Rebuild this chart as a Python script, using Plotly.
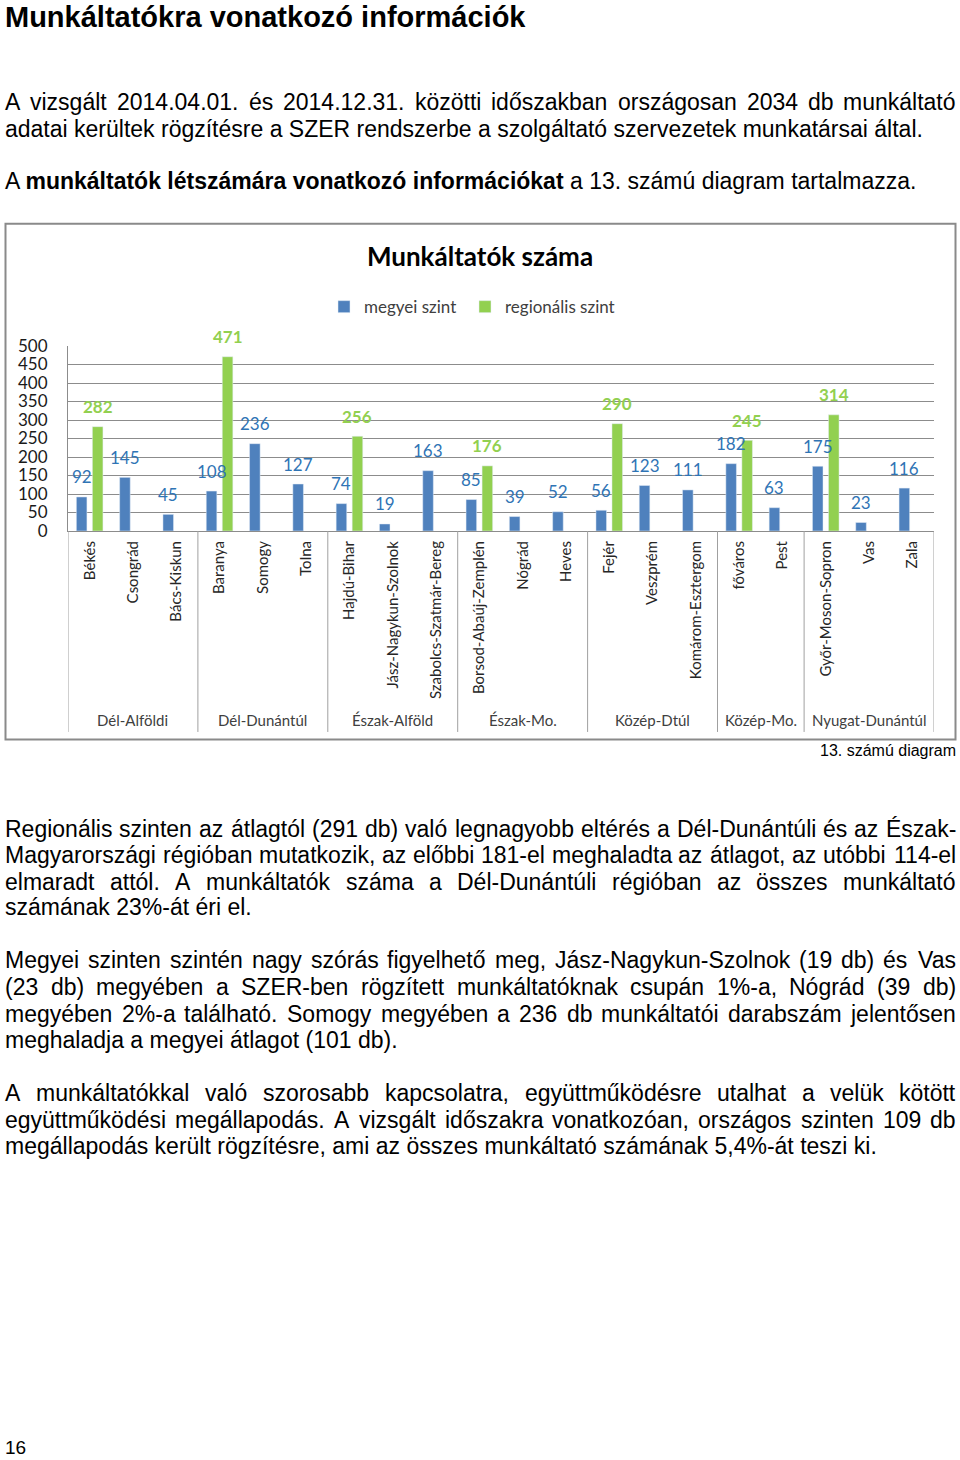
import plotly.graph_objects as go

# ---------------- data ----------------
counties = ["Békés", "Csongrád", "Bács-Kiskun", "Baranya", "Somogy", "Tolna",
            "Hajdú-Bihar", "Jász-Nagykun-Szolnok", "Szabolcs-Szatmár-Bereg",
            "Borsod-Abaúj-Zemplén", "Nógrád", "Heves", "Fejér", "Veszprém",
            "Komárom-Esztergom", "főváros", "Pest", "Győr-Moson-Sopron", "Vas", "Zala"]
megyei = [92, 145, 45, 108, 236, 127, 74, 19, 163, 85, 39, 52, 56, 123, 111, 182, 63, 175, 23, 116]
regionalis = [282, None, None, 471, None, None, 256, None, None, 176, None, None,
              290, None, None, 245, None, 314, None, None]
regions = ["Dél-Alföldi", "Dél-Dunántúl", "Észak-Alföld", "Észak-Mo.",
           "Közép-Dtúl", "Közép-Mo.", "Nyugat-Dunántúl"]
region_sizes = [3, 3, 3, 3, 3, 2, 3]
yticks = [0, 50, 100, 150, 200, 250, 300, 350, 400, 450, 500]

heading = "Munkáltatókra vonatkozó információk"
chart_title = "Munkáltatók száma"
caption = "13. számú diagram"
page_no = "16"
# (text, vertical centre on page, justified?)
body_lines = [
    ("A vizsgált 2014.04.01. és 2014.12.31. közötti időszakban országosan 2034 db munkáltató", 101, True),
    ("adatai kerültek rögzítésre a SZER rendszerbe a szolgáltató szervezetek munkatársai által.", 128, False),
    ("A <b>munkáltatók létszámára vonatkozó információkat</b> a 13. számú diagram tartalmazza.", 181, False),
    ("Regionális szinten az átlagtól (291 db) való legnagyobb eltérés a Dél-Dunántúli és az Észak-", 830, True),
    ("Magyarországi régióban mutatkozik, az előbbi 181-el meghaladta az átlagot, az utóbbi 114-el", 856, True),
    ("elmaradt attól. A munkáltatók száma a Dél-Dunántúli régióban az összes munkáltató", 883, True),
    ("számának 23%-át éri el.", 909, False),
    ("Megyei szinten szintén nagy szórás figyelhető meg, Jász-Nagykun-Szolnok (19 db) és Vas", 962, True),
    ("(23 db) megyében a SZER-ben rögzített munkáltatóknak csupán 1%-a, Nógrád (39 db)", 989, True),
    ("megyében 2%-a található. Somogy megyében a 236 db munkáltatói darabszám jelentősen", 1016, True),
    ("meghaladja a megyei átlagot (101 db).", 1042, False),
    ("A munkáltatókkal való szorosabb kapcsolatra, együttműködésre utalhat a velük kötött", 1095, True),
    ("együttműködési megállapodás. A vizsgált időszakra vonatkozóan, országos szinten 109 db", 1122, True),
    ("megállapodás került rögzítésre, ami az összes munkáltató számának 5,4%-át teszi ki.", 1148, False),
]

# ---------------- layout geometry ----------------
W, H = 960, 1460
PL, PR, PT, PB = 68, 934, 346, 531.5   # plot area on the page


def pxp(x):
    return (x - PL) / (PR - PL)


def pyp(y):
    return (PB - y) / (PB - PT)


# Arial / Liberation Sans advance widths (1/1000 em)
AW = {' ': 278, '.': 278, ',': 278, '-': 333, '(': 333, ')': 333, '%': 889}
for ch in "0123456789":
    AW[ch] = 556
AW.update(dict(a=556, b=556, c=500, d=556, e=556, f=278, g=556, h=556, i=222, j=222,
               k=500, l=222, m=833, n=556, o=556, p=556, q=556, r=333, s=500, t=278,
               u=556, v=500, w=722, x=500, y=500, z=500))
AW.update({'á': 556, 'é': 556, 'í': 278, 'ó': 556, 'ö': 556, 'ő': 556, 'ú': 556, 'ü': 556, 'ű': 556})
AW.update(dict(A=667, B=667, C=722, D=722, E=667, F=611, G=778, H=722, I=278, J=500, K=667,
               L=556, M=833, N=722, O=778, P=667, Q=778, R=722, S=667, T=611, U=722, V=667,
               W=944, X=667, Y=667, Z=611))
AW['É'] = 667

BODY_FONT = "Liberation Sans, Arial, sans-serif"
BODY_FS = 23
CH_FONT = "Lato, Open Sans, sans-serif"
TEXT_L, TEXT_R = 5, 956


def tw(s, fs):
    return sum(AW.get(c, 556) for c in s) * fs / 1000.0


annotations = []


def txt(text, x, y, xanchor="left", size=BODY_FS, color="#000000", family=BODY_FONT):
    annotations.append(dict(text=text, x=pxp(x), y=pyp(y), xref="paper", yref="paper",
                            xanchor=xanchor, yanchor="middle", showarrow=False,
                            borderpad=0, borderwidth=0,
                            font=dict(family=family, size=size, color=color)))


# heading
txt("<b>" + heading + "</b>", TEXT_L, 16, size=29)

# body text (justified lines are set word by word)
for text, yc, just in body_lines:
    if not just:
        txt(text, TEXT_L, yc)
        continue
    words = text.split(" ")
    widths = [tw(w_, BODY_FS) for w_ in words]
    gap = (TEXT_R - TEXT_L - sum(widths)) / (len(words) - 1)
    x = TEXT_L
    for i, (w_, wd) in enumerate(zip(words, widths)):
        if i == len(words) - 1:
            txt(w_, TEXT_R, yc, xanchor="right")
        else:
            txt(w_, x, yc)
        x += wd + gap

# caption + page number
txt(caption, 956, 752, xanchor="right", size=16)
txt(page_no, 5, 1450, size=19)

# data labels
for c, v in zip(counties, megyei):
    annotations.append(dict(x=c, y=v, xref="x", yref="y", text=str(v), showarrow=False,
                            xshift=-8, yshift=20, yanchor="middle",
                            font=dict(family=CH_FONT, size=17, color="#2f74b5")))
for c, v in zip(counties, regionalis):
    if v is None:
        continue
    annotations.append(dict(x=c, y=v, xref="x", yref="y", text="<b>%d</b>" % v, showarrow=False,
                            xshift=8, yshift=20, yanchor="middle",
                            font=dict(family=CH_FONT, size=17, color="#92d050")))

# region labels and separators
shapes = []
start = 0
bounds = [-0.5]
for name, n in zip(regions, region_sizes):
    annotations.append(dict(x=start + (n - 1) / 2.0, y=pyp(721), xref="x", yref="paper",
                            text=name, showarrow=False, yanchor="middle",
                            font=dict(family=CH_FONT, size=15, color="#404040")))
    start += n
    bounds.append(start - 0.5)
for b in bounds:
    shapes.append(dict(type="line", xref="x", yref="paper", x0=b, x1=b, y0=0, y1=pyp(733),
                       line=dict(color="#a0a0a0", width=1)))

# chart frame
shapes.append(dict(type="rect", xref="paper", yref="paper", x0=pxp(5.5), x1=pxp(955.5),
                   y0=pyp(740.5), y1=pyp(223.5), line=dict(color="#8a8a8a", width=2),
                   layer="below"))

fig = go.Figure()
fig.add_trace(go.Bar(x=counties, y=megyei, name="megyei szint", marker_color="#4f81bd",
                     legend="legend"))
fig.add_trace(go.Bar(x=counties, y=regionalis, name="regionális szint", marker_color="#92d050",
                     legend="legend2"))

legend_common = dict(orientation="h", xanchor="left", yanchor="middle", y=pyp(307),
                     font=dict(family=CH_FONT, size=17, color="#404040"),
                     itemwidth=30, bgcolor="rgba(0,0,0,0)")

fig.update_layout(
    width=W, height=H,
    margin=dict(l=PL, r=W - PR, t=PT, b=H - PB, pad=0),
    paper_bgcolor="white", plot_bgcolor="white",
    barmode="group", bargap=0.26, bargroupgap=0.34,
    title=dict(text="<b>" + chart_title + "</b>", x=480 / W, xanchor="center",
               xref="container", yref="container", y=1 - 257 / H, yanchor="middle",
               font=dict(family=CH_FONT, size=26, color="#000000")),
    legend=dict(x=pxp(324), **legend_common),
    legend2=dict(x=pxp(465), **legend_common),
    xaxis=dict(type="category", range=[-0.5, 19.5], tickangle=-90, showgrid=False,
               showline=True, linecolor="#8c8c8c", linewidth=1, ticks="",
               tickfont=dict(family=CH_FONT, size=15, color="#262626"),
               ticklabelstandoff=3, fixedrange=True),
    yaxis=dict(range=[0, 500], tickvals=yticks, showgrid=True, gridcolor="#8c8c8c", gridwidth=1,
               showline=True, linecolor="#8c8c8c", zeroline=False, ticks="",
               tickfont=dict(family=CH_FONT, size=17, color="#1a1a1a"),
               ticklabelstandoff=16, fixedrange=True),
    annotations=annotations,
    shapes=shapes,
    showlegend=True,
)

fig.write_html("out.html", config={"displayModeBar": False},
               post_script="document.body.style.margin='0';document.body.style.overflow='hidden';")
